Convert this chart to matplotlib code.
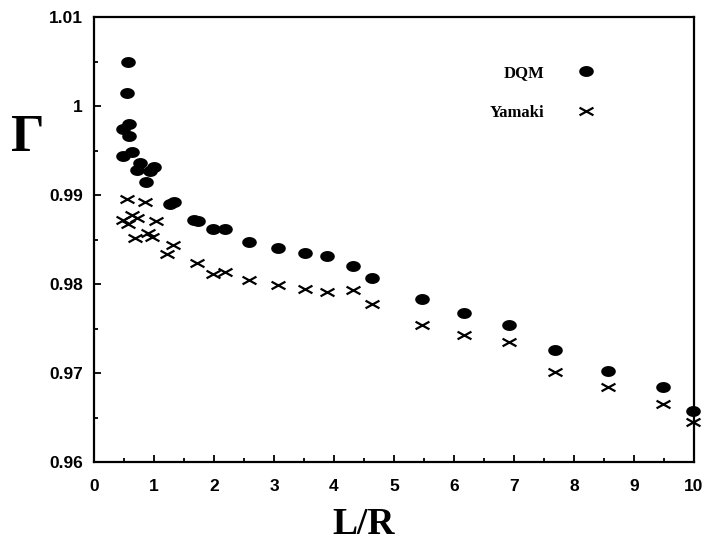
import numpy as np
import matplotlib
matplotlib.use("Agg")
from matplotlib import pyplot as plt
from matplotlib.path import Path
from matplotlib.ticker import MultipleLocator, FormatStrFormatter

# data
dqm_x = [0.57, 0.55, 0.59, 0.49, 0.59, 0.63, 0.48, 0.77, 0.71, 1.0, 0.93, 0.87,
         1.27, 1.34, 1.66, 1.73, 1.99, 2.18, 2.59, 3.07, 3.51, 3.88, 4.31, 4.63,
         5.46, 6.17, 6.91, 7.68, 8.56, 9.49, 9.99]
dqm_y = [1.0050, 1.0015, 0.9980, 0.9974, 0.9966, 0.9948, 0.9944, 0.9936, 0.9928,
         0.9931, 0.9927, 0.9915, 0.9890, 0.9892, 0.9872, 0.9871, 0.9862, 0.9862,
         0.9847, 0.9840, 0.9835, 0.9832, 0.9820, 0.9807, 0.9783, 0.9768, 0.9754,
         0.9726, 0.9702, 0.9684, 0.9657]

yam_x = [0.545, 0.85, 0.63, 0.49, 0.71, 1.03, 0.57, 0.9, 0.96, 0.68, 1.32, 1.22,
         1.71, 1.99, 2.18, 2.59, 3.07, 3.51, 3.88, 4.31, 4.63, 5.46, 6.17, 6.91,
         7.68, 8.56, 9.49, 9.99]
yam_y = [0.9895, 0.9892, 0.9878, 0.9872, 0.9874, 0.9871, 0.9868, 0.9857, 0.9853,
         0.9852, 0.9844, 0.9834, 0.9824, 0.9811, 0.9813, 0.9804, 0.9799, 0.9794,
         0.9791, 0.9793, 0.9777, 0.9754, 0.9743, 0.9735, 0.9701, 0.9684, 0.9665,
         0.9645]

# flattened dot and wide cross markers
t = np.linspace(0, 2 * np.pi, 40)
ellipse = Path(np.column_stack([np.cos(t), 0.72 * np.sin(t)]), closed=True)
wide_x = Path([(-1, -0.55), (1, 0.55), (-1, 0.55), (1, -0.55)],
              [Path.MOVETO, Path.LINETO, Path.MOVETO, Path.LINETO])

fig = plt.figure(figsize=(7.07, 5.46), dpi=100)
ax = fig.add_axes([0.133, 0.1538, 0.8487, 0.815])

ax.plot(dqm_x, dqm_y, linestyle="none", marker=ellipse, markersize=9.5,
        color="black", clip_on=False, label="DQM")
ax.plot(yam_x, yam_y, linestyle="none", marker=wide_x, markersize=10,
        markeredgewidth=1.6, color="black", clip_on=False, label="Yamaki")

ax.set_xlim(0, 10)
ax.set_ylim(0.96, 1.01)
ax.xaxis.set_major_locator(MultipleLocator(1))
ax.xaxis.set_minor_locator(MultipleLocator(0.5))
ax.yaxis.set_major_locator(MultipleLocator(0.01))
ax.yaxis.set_minor_locator(MultipleLocator(0.005))
ax.yaxis.set_major_formatter(FormatStrFormatter("%g"))
ax.tick_params(which="both", direction="in", top=False, right=False, width=1.3)
ax.tick_params(which="major", length=5)
ax.tick_params(axis="x", which="major", pad=12)
ax.tick_params(axis="y", which="major", pad=8)
ax.tick_params(which="minor", length=3)
for s in ax.spines.values():
    s.set_linewidth(1.6)
for lab in ax.get_xticklabels() + ax.get_yticklabels():
    lab.set_fontfamily("Liberation Sans")
    lab.set_fontweight("bold")
    lab.set_fontsize(12.5)

fig.text(0.04, 0.747, "\u0393", family="Liberation Serif", fontweight="bold",
         fontsize=38, ha="center", va="center")
fig.text(0.515, 0.04, "L/R", family="Liberation Serif", fontweight="bold",
         fontsize=27, ha="center", va="center")

ax.legend(loc="upper left", bbox_to_anchor=(0.66, 0.893), frameon=False,
          markerfirst=False, borderpad=0, borderaxespad=0, labelspacing=1.45,
          handlelength=2, handletextpad=1.5,
          prop={"family": "Liberation Serif", "weight": "bold", "size": 12})

plt.savefig("out.png", dpi=100)
